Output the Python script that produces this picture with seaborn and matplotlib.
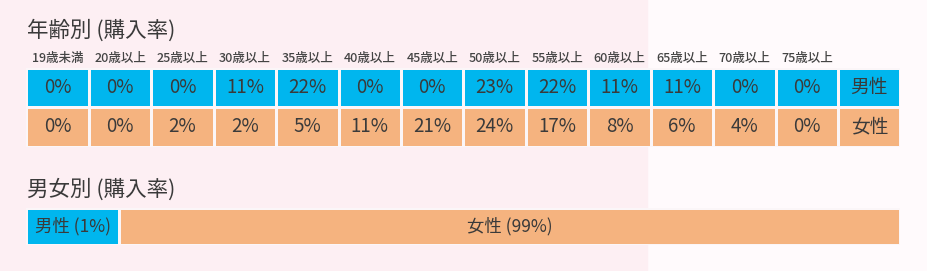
import numpy as np
import matplotlib
matplotlib.use("Agg")
import matplotlib.pyplot as plt
from matplotlib.colors import ListedColormap
import seaborn as sns

# ---- data ----
age_labels = ["19歳未満", "20歳以上", "25歳以上", "30歳以上", "35歳以上", "40歳以上", "45歳以上",
              "50歳以上", "55歳以上", "60歳以上", "65歳以上", "70歳以上", "75歳以上"]
male_pct = [0, 0, 0, 11, 22, 0, 0, 23, 22, 11, 11, 0, 0]
female_pct = [0, 0, 2, 2, 5, 11, 21, 24, 17, 8, 6, 4, 0]
row_labels = ["男性", "女性"]
gender_labels = ["男性", "女性"]
gender_share = [1, 99]
title_age = "年齢別 (購入率)"
title_gender = "男女別 (購入率)"

# ---- style ----
sns.set_theme(style="white")
plt.rcParams['font.family'] = ['Noto Sans CJK JP', 'DejaVu Sans']

BLUE = "#00b6ee"
ORANGE = "#f5b37f"
TEXT = "#3a3a3a"
GAP = "#fbf6f8"

W, H, DPI = 928, 271, 100
fig = plt.figure(figsize=(W / DPI, H / DPI), dpi=DPI)
fig.patch.set_facecolor("#fffafc")

# background (pink left panel)
bg = fig.add_axes([0, 0, 1, 1])
bg.set_xlim(0, W)
bg.set_ylim(H, 0)
bg.axis("off")
bg.add_patch(plt.Rectangle((0, 0), 647, H, color="#fdeff3", zorder=0))


def px_axes(x0, y0, x1, y1):
    return fig.add_axes([x0 / W, 1 - y1 / H, (x1 - x0) / W, (y1 - y0) / H])


# titles
fig.text(27 / W, 1 - 31 / H, title_age, fontsize=15.5, color=TEXT, va="center", ha="left")
fig.text(27 / W, 1 - 190 / H, title_gender, fontsize=15.5, color=TEXT, va="center", ha="left")

# ---- age grid (heatmap) ----
ncol = len(age_labels) + 1
codes = np.array([[0] * ncol, [1] * ncol])
annot = np.array([[f"{v}%" for v in male_pct] + [row_labels[0]],
                  [f"{v}%" for v in female_pct] + [row_labels[1]]])
lw_px = 3
ax = px_axes(28 - lw_px / 2, 69 - lw_px / 2, 899 + lw_px / 2, 145 + lw_px / 2)
sns.heatmap(codes, ax=ax, cmap=ListedColormap([BLUE, ORANGE]), vmin=0, vmax=1,
            annot=annot, fmt="", cbar=False, linewidths=lw_px * 72 / DPI, linecolor=GAP,
            annot_kws={"fontsize": 13.5, "color": TEXT},
            xticklabels=age_labels + [""], yticklabels=False)
ax.xaxis.tick_top()
ax.tick_params(axis="x", length=0, pad=2, labelsize=9, labelcolor="#444444", rotation=0)
for t in ax.get_xticklabels():
    t.set_fontweight("medium")
ax.set_xlabel("")
ax.set_ylabel("")

# ---- gender bar ----
MIN_SHARE = 10.6
disp = [max(gender_share[0], MIN_SHARE)]
disp.append(100 - disp[0])
bx = px_axes(28 - 1.5, 208, 899 + 1.5, 245)
bx.set_xlim(0, 100)
bx.set_ylim(-0.5, 0.5)
bx.axis("off")
left = 0
for lab, share, d, col in zip(gender_labels, gender_share, disp, [BLUE, ORANGE]):
    bx.barh(0, d, left=left, height=1.0, color=col, edgecolor=GAP, linewidth=lw_px * 72 / DPI)
    bx.text(left + d / 2, 0, f"{lab} ({share}%)", ha="center", va="center",
            fontsize=12.5, color=TEXT)
    left += d

fig.savefig("out.png", dpi=DPI, facecolor=fig.get_facecolor())
